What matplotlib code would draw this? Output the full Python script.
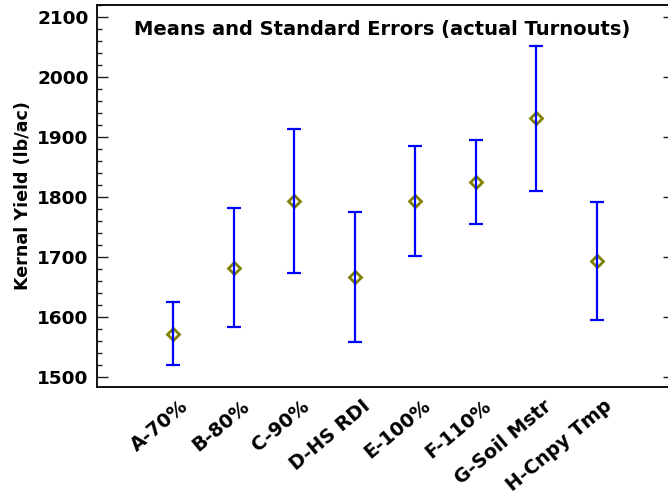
import numpy as np
import matplotlib.pyplot as plt
import matplotlib.transforms as mtransforms
from matplotlib.ticker import MultipleLocator

# data
groups = ["A-70%", "B-80%", "C-90%", "D-HS RDI", "E-100%", "F-110%", "G-Soil Mstr", "H-Cnpy Tmp"]
means = [1572, 1682, 1793, 1666, 1793, 1825, 1931, 1693]
std_errs = [52.5, 99, 120.5, 108, 92, 70.5, 121, 99]

plt.rcParams['font.family'] = ['DejaVu Sans']
plt.rcParams['font.weight'] = 'bold'

fig = plt.figure(figsize=(6.68, 4.96), dpi=100)
ax = fig.add_axes([97 / 668, 109 / 496, 577 / 668, 382 / 496])

x = np.arange(len(groups))
ax.plot(x, means, linestyle='none', marker='D', markersize=6.3,
        markerfacecolor='none', markeredgecolor='#808000', markeredgewidth=2, zorder=2)
ax.errorbar(x, means, yerr=std_errs, fmt='none', ecolor='#0000ff',
            elinewidth=1.6, capsize=4.7, capthick=1.6, zorder=3)

ax.set_xlim(-1.26, 8.28)
ax.set_ylim(1483, 2120)
ax.yaxis.set_major_locator(MultipleLocator(100))
ax.yaxis.set_minor_locator(MultipleLocator(20))

for side in ax.spines:
    ax.spines[side].set_linewidth(1.3)
    ax.spines[side].set_color('black')

ax.tick_params(axis='y', which='major', direction='in', length=8, width=1,
               labelsize=13.3, pad=6, right=True, color='#222222')
ax.tick_params(axis='y', which='minor', direction='in', length=3.8, width=1,
               right=True, color='#222222')
ax.tick_params(axis='x', length=0, pad=12, labelsize=13.8)

ax.set_xticks(x)
ax.set_xticklabels(groups, rotation=40, ha='right', va='center', rotation_mode='anchor')
offset = mtransforms.ScaledTranslation(13 / 100, 0, fig.dpi_scale_trans)
for lab in ax.get_xticklabels():
    lab.set_transform(lab.get_transform() + offset)

ax.set_ylabel("Kernal Yield (lb/ac)", fontsize=12.6, fontweight='bold')
ax.yaxis.set_label_coords(-0.112, 0.5)

ax.text(0.494, 0.935, "Means and Standard Errors (actual Turnouts)", transform=ax.transAxes,
        ha='center', va='center', fontsize=14, fontweight='bold')

fig.savefig("out.png", dpi=100)
